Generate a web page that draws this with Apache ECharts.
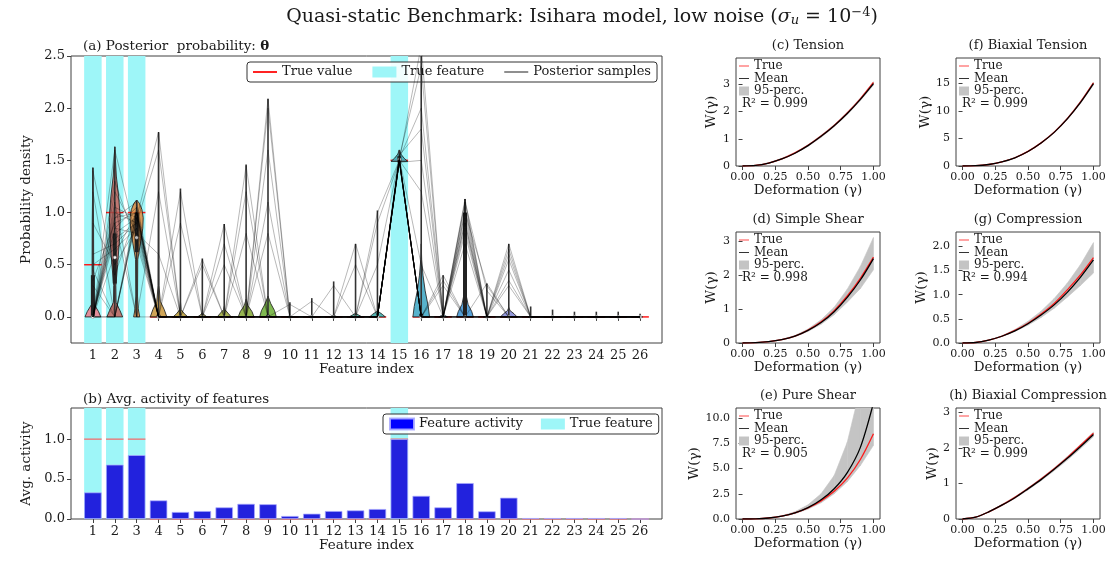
<!DOCTYPE html>
<html>
<head>
<meta charset="utf-8">
<script src="https://cdn.jsdelivr.net/npm/echarts@6/dist/echarts.min.js"></script>
<style>html,body{margin:0;padding:0;background:#fff}#chart{width:1113px;height:578px}</style>
</head>
<body>
<div id="chart"></div>
<script>
// ---------------- DATA : panels (a) & (b) ----------------
const features = [1,2,3,4,5,6,7,8,9,10,11,12,13,14,15,16,17,18,19,20,21,22,23,24,25,26];
const featureTicks = features;
const trueFeatures = [1, 2, 3, 15];
const trueValues   = [0.5,1.0,1.0,0,0,0,0,0,0,0,0,0,0,0,1.5,0,0,0,0,0,0,0,0,0,0,0];
const trueActivity = [1,1,1,0,0,0,0,0,0,0,0,0,0,0,1,0,0,0,0,0,0,0,0,0,0,0];
const featureActivity = [0.333,0.68,0.80,0.233,0.088,0.10,0.146,0.19,0.185,0.038,0.067,0.10,0.108,0.125,1.0,0.29,0.146,0.45,0.096,0.267,0.012,0.012,0.012,0.012,0.012,0];
const densityTicks = [0,0.5,1.0,1.5,2.0,2.5];
const activityTicks = [0,0.5,1.0];

// violin summaries
const whiskerMin = [0,0,0,0,0,0,0,0,0,0,0,0,0,0,1.46,0,0,0,0,0,0,0,0,0,0,0];
const whiskerMax = [1.43,1.63,1.12,1.77,1.23,0.56,0.89,1.46,2.09,0.14,0.18,0.34,0.70,1.02,1.60,2.70,0.40,1.13,0.32,0.70,0.10,0.07,0.05,0.05,0.05,0.03];
const boxLow  = [0,0.32,0.62,0,0,0,0,0,0,0,0,0,0,0,1.48,0,0,0,0,0,0,0,0,0,0,0];
const boxHigh = [0.40,0.80,1.00,0.02,0.01,0,0,0.01,0.02,0,0,0,0,0,1.54,0.03,0,1.00,0,0,0,0,0,0,0,0];
const medians = [0,0.57,0.76,0,0,0,0,0,0,0,0,0,0,0,1.51,0,0,0,0,0,0,0,0,0,0,0];
const violinProfiles = [
  [[0,0.36],[0.05,0.26],[0.12,0.06],[0.3,0.04],[0.9,0.03],[1.43,0]],
  [[0,0.36],[0.06,0.24],[0.14,0.06],[0.3,0.05],[0.5,0.13],[0.75,0.22],[0.95,0.25],[1.15,0.18],[1.35,0.07],[1.55,0.02],[1.63,0]],
  [[0,0.14],[0.08,0.07],[0.2,0.04],[0.55,0.05],[0.7,0.17],[0.85,0.28],[0.95,0.30],[1.03,0.24],[1.09,0.12],[1.12,0]],
  [[0,0.38],[0.07,0.26],[0.15,0.08],[0.3,0.02],[1.77,0]],
  [[0,0.34],[0.03,0.18],[0.07,0.03],[0.15,0]],
  [[0,0.22],[0.02,0.08],[0.04,0]],
  [[0,0.32],[0.03,0.2],[0.07,0.03],[0.1,0]],
  [[0,0.36],[0.05,0.27],[0.11,0.08],[0.17,0]],
  [[0,0.38],[0.06,0.30],[0.13,0.12],[0.2,0]],
  [[0,0.12],[0.01,0]],
  [[0,0.14],[0.01,0]],
  [[0,0.18],[0.015,0]],
  [[0,0.30],[0.02,0.12],[0.035,0]],
  [[0,0.36],[0.025,0.22],[0.05,0.05],[0.06,0]],
  [[1.49,0.38],[1.52,0.22],[1.56,0.07],[1.6,0]],
  [[0,0.38],[0.1,0.32],[0.25,0.18],[0.4,0.08],[0.55,0.02],[0.7,0]],
  [[0,0.20],[0.015,0.06],[0.03,0]],
  [[0,0.38],[0.05,0.31],[0.12,0.14],[0.2,0.06],[0.5,0.04],[0.95,0.03],[1.13,0]],
  [[0,0.16],[0.01,0]],
  [[0,0.38],[0.03,0.24],[0.06,0.06],[0.09,0]],
  [[0,0.12],[0.006,0]],
  [[0,0.12],[0.006,0]],
  [[0,0.12],[0.006,0]],
  [[0,0.12],[0.006,0]],
  [[0,0.12],[0.006,0]],
  [[0,0.12],[0.006,0]]
];
const violinColors = ['#ee7a88','#c4625a','#e0893e','#c8953a','#b89a32','#a89f32','#97a332','#84a832','#6aad32','#32b045','#34ae73','#35ac8b','#36ab9a','#37aaa8','#38a8b5','#3aa5c3','#3da2d4','#3a8fd0','#7a90ea','#8086d4','#b77bea','#d06ee5','#e86dd0','#f46fb8','#f572a3','#f6749a'];

// representative posterior sample traces (values per feature 1..26)
const sample01 = [0,0.95,1.0,0,0,0,0,0,0,0,0,0,0,0,1.5,0,0,1.05,0,0,0,0,0,0,0,0];
const sample02 = [0,0.8,0.95,0,0,0,0,0,0,0,0,0,0,0,1.52,0.5,0,0,0,0,0,0,0,0,0,0];
const sample03 = [0.45,0,1.05,0,0,0,0,0,0,0,0,0,0,0,1.5,0,0,0.95,0,0.55,0,0,0,0,0,0];
const sample04 = [0,1.1,0,1.2,0,0,0,0,0,0,0,0,0,0,1.48,0,0,1.1,0,0,0,0,0,0,0,0];
const sample05 = [0.9,0.5,0.85,0,0,0,0,1.2,0,0,0,0,0,0,1.5,0,0,0,0,0,0,0,0,0,0,0];
const sample06 = [0,1.0,0.9,0,0,0,0,0,1.6,0,0,0,0,0,1.55,1.8,0,0,0,0.6,0,0,0,0,0,0];
const sample07 = [0,0.6,1.0,0,0,0,0.7,0,0,0,0,0,0,0,1.5,0,0,0.9,0,0,0,0,0,0,0,0];
const sample08 = [0.3,0,0.95,0,0.9,0,0,0,0,0,0,0,0.5,0,1.5,0,0.3,0,0,0,0,0,0,0,0,0];
const sample09 = [0,0.85,0.8,0.6,0,0,0,0,0,0,0,0,0,0,1.53,2.4,0,0.8,0,0,0,0,0,0,0,0];
const sample10 = [0,1.3,0.7,0,0,0,0,0,1.1,0,0,0.3,0,0.9,1.49,0,0,0,0,0.45,0,0,0,0,0,0];
const sample11 = [1.2,0,1.0,0,0,0.5,0,0,0,0,0,0,0,0,1.51,0,0,1.0,0.3,0,0,0,0,0,0,0];
const sample12 = [0,0.95,1.1,0,0,0,0,0.8,0,0,0.15,0,0,0,1.5,1.2,0,0,0,0,0,0,0,0,0,0];
const sample13 = [0.6,0.7,0.9,1.6,0,0,0,0,0,0,0,0,0,0,1.5,0,0,0.85,0,0.35,0,0,0,0,0,0];
const sample14 = [0,0,1.0,0,0,0,0,0,2.0,0,0,0,0,0,1.5,0,0.35,0,0,0,0,0,0,0,0,0];
const sample15 = [0,0.75,0.9,0,0,0,0,0,0,0,0,0,0,0.5,1.52,2.0,0,0,0,0.65,0,0,0,0,0,0];
const sample16 = [0.35,0.9,0,0,0,0,0.5,0,0,0.12,0,0,0,0,1.5,0,0,1.1,0.25,0,0,0,0,0,0,0];
const sample17 = [0,1.05,0.95,0,0,0,0,0,0,0,0,0,0,0,1.5,0,0,0.7,0,0,0,0,0,0,0,0];
const sample18 = [0,0.9,1.0,0,0,0,0,1.45,0,0,0,0,0,0,1.5,0,0,0,0,0.3,0,0,0,0,0,0];
const sample19 = [0.5,0.65,0.85,0,1.2,0,0,0,0,0,0,0,0,0,1.52,0,0,1.0,0,0,0,0,0,0,0,0];
const sample20 = [0,1.2,0.8,0,0,0,0,0,0.8,0,0,0,0.7,0,1.5,2.6,0,0,0,0,0,0,0,0,0,0];
const sample21 = [0,0,0.95,1.77,0,0,0,0,0,0,0,0,0,0,1.5,0,0,1.13,0,0,0,0,0,0,0,0];
const sample22 = [1.4,0.4,1.0,0,0,0,0,0,0,0,0,0,0,1.0,1.5,0,0.4,0,0,0.7,0,0,0,0,0,0];
const sample23 = [0,0.85,1.05,0,0,0.55,0,0,0,0,0,0,0,0,1.48,1.5,0,0.9,0,0,0,0,0,0,0,0];
const sample24 = [0,1.6,0.75,0,0,0,0.89,0,2.09,0,0,0,0,0,1.53,0,0,0,0.32,0,0,0,0,0,0,0];
const posteriorSamples = [sample01,sample02,sample03,sample04,sample05,sample06,sample07,sample08,sample09,sample10,sample11,sample12,
                          sample13,sample14,sample15,sample16,sample17,sample18,sample19,sample20,sample21,sample22,sample23,sample24];

// ---------------- DATA : panels (c)-(h) ----------------
const gamma = [0,0.1,0.2,0.3,0.4,0.5,0.6,0.7,0.8,0.9,1.0];
const gammaTicks = [0,0.25,0.5,0.75,1.0];

const tensionTrue = [0,0.02,0.11,0.26,0.48,0.76,1.10,1.49,1.95,2.47,3.07];
const tensionMean = [0,0.02,0.11,0.26,0.47,0.75,1.09,1.48,1.93,2.45,3.03];
const tensionLow  = [0,0.01,0.10,0.24,0.45,0.72,1.05,1.44,1.89,2.40,2.97];
const tensionHigh = [0,0.03,0.12,0.28,0.50,0.78,1.13,1.52,1.98,2.50,3.10];

const biaxTensionTrue = [0,0.05,0.27,0.75,1.50,2.65,4.20,6.15,8.60,11.60,15.10];
const biaxTensionMean = [0,0.05,0.27,0.74,1.49,2.63,4.17,6.10,8.55,11.50,14.95];
const biaxTensionLow  = [0,0.04,0.25,0.71,1.44,2.56,4.07,5.97,8.38,11.30,14.70];
const biaxTensionHigh = [0,0.06,0.29,0.78,1.54,2.71,4.27,6.23,8.72,11.72,15.20];

const shearTrue = [0,0.01,0.04,0.10,0.20,0.38,0.62,0.95,1.38,1.90,2.52];
const shearMean = [0,0.01,0.04,0.10,0.20,0.37,0.60,0.92,1.34,1.85,2.48];
const shearLow  = [0,0.01,0.035,0.09,0.18,0.34,0.55,0.83,1.20,1.60,2.15];
const shearHigh = [0,0.01,0.045,0.11,0.22,0.41,0.68,1.05,1.58,2.25,3.10];

const compTrue = [0,0.01,0.06,0.14,0.26,0.41,0.60,0.82,1.10,1.41,1.77];
const compMean = [0,0.01,0.06,0.14,0.25,0.40,0.58,0.79,1.05,1.36,1.72];
const compLow  = [0,0.01,0.055,0.13,0.24,0.37,0.53,0.72,0.95,1.19,1.45];
const compHigh = [0,0.01,0.065,0.15,0.28,0.45,0.66,0.92,1.24,1.62,2.08];

const pureTrue = [0,0.02,0.10,0.28,0.60,1.10,1.80,2.75,4.05,5.90,8.45];
const pureMean = [0,0.02,0.10,0.28,0.60,1.12,1.90,3.00,4.60,7.10,11.50];
const pureLow  = [0,0.02,0.09,0.25,0.53,0.98,1.60,2.50,3.70,5.30,7.30];
const pureHigh = [0,0.02,0.11,0.32,0.72,1.40,2.50,4.30,7.60,13.0,20.0];

const biaxCompTrue = [0,0.05,0.20,0.39,0.61,0.86,1.13,1.42,1.73,2.07,2.42];
const biaxCompMean = [0,0.05,0.20,0.39,0.60,0.85,1.11,1.40,1.71,2.04,2.38];
const biaxCompLow  = [0,0.04,0.19,0.37,0.58,0.82,1.08,1.36,1.66,1.98,2.32];
const biaxCompHigh = [0,0.06,0.21,0.41,0.63,0.88,1.15,1.44,1.76,2.10,2.45];

const r2Values = ['0.999','0.999','0.998','0.994','0.905','0.999'];

// ---------------- STYLE / LAYOUT ----------------
const FONT = "'DejaVu Serif', serif";
const TXT = '#1a1a1a';
const EDGE = '#404040';
const CYAN = '#9ef6f8';
const RED = '#ff1a1a';
const BAND = '#c4c4c4';
const LINE_ICON = 'path://M0,0 L20,0 L20,1.6 L0,1.6 Z';

const panels = [
  {title:'(c) Tension',             left:736, top:58,  h:108, ymax:3.97, ticks:[0,1,2,3],           dec:0, gap:18, t:tensionTrue, m:tensionMean, lo:tensionLow, hi:tensionHigh},
  {title:'(f) Biaxial Tension',     left:956, top:58,  h:108, ymax:19.6, ticks:[0,5,10,15],         dec:0, gap:22, t:biaxTensionTrue, m:biaxTensionMean, lo:biaxTensionLow, hi:biaxTensionHigh},
  {title:'(d) Simple Shear',        left:736, top:232, h:111, ymax:3.26, ticks:[0,1,2,3],           dec:0, gap:18, t:shearTrue, m:shearMean, lo:shearLow, hi:shearHigh},
  {title:'(g) Compression',         left:956, top:232, h:111, ymax:2.30, ticks:[0,0.5,1.0,1.5,2.0], dec:1, gap:25, t:compTrue, m:compMean, lo:compLow, hi:compHigh},
  {title:'(e) Pure Shear',          left:736, top:408, h:111, ymax:11.0, ticks:[0,2.5,5,7.5,10],    dec:1, gap:31, t:pureTrue, m:pureMean, lo:pureLow, hi:pureHigh},
  {title:'(h) Biaxial Compression', left:956, top:408, h:111, ymax:3.13, ticks:[0,1,2,3],           dec:0, gap:17, t:biaxCompTrue, m:biaxCompMean, lo:biaxCompLow, hi:biaxCompHigh}
];
const PW = 144;

const grids = [
  {left:71, top:56, width:591, height:287},
  {left:71, top:408, width:591, height:111}
];
panels.forEach(p => grids.push({left:p.left, top:p.top, width:PW, height:p.h}));
grids.forEach(g => Object.assign(g, {show:true, borderColor:EDGE, borderWidth:1, backgroundColor:'transparent', outerBoundsMode:'none', containLabel:false}));

function valAxis(gridIndex, min, max, ticks, fmt, fontSize, extra) {
  return Object.assign({
    type:'value', gridIndex, min, max,
    splitLine:{show:false}, axisLine:{show:false},
    axisTick:{show:true, customValues:ticks, length:4, lineStyle:{color:EDGE}},
    axisLabel:{customValues:ticks, formatter:fmt, color:TXT, fontFamily:FONT, fontSize, margin:6},
    nameTextStyle:{color:TXT, fontFamily:FONT, fontSize:13.5},
    nameLocation:'middle'
  }, extra || {});
}

const xAxes = [
  valAxis(0, 0, 27, featureTicks, v => String(v), 13, {name:'Feature index', nameGap:19}),
  valAxis(1, 0, 27, featureTicks, v => String(v), 13, {name:'Feature index', nameGap:19})
];
const yAxes = [
  valAxis(0, -0.25, 2.5, densityTicks, v => v.toFixed(1), 13, {name:'Probability density', nameGap:27}),
  valAxis(1, 0, 1.39, activityTicks, v => v.toFixed(1), 13, {name:'Avg. activity', nameGap:25})
];
panels.forEach((p, i) => {
  xAxes.push(valAxis(i + 2, -0.05, 1.05, gammaTicks, v => v.toFixed(2), 11, {name:'Deformation (γ)', nameGap:17}));
  yAxes.push(valAxis(i + 2, 0, p.ymax, p.ticks, v => v.toFixed(p.dec), 11, {name:'W(γ)', nameGap:p.gap}));
});

const series = [];

// (a) true-feature bands
series.push({
  type:'custom', name:'True feature', xAxisIndex:0, yAxisIndex:0, z:1, silent:true,
  data: trueFeatures.map(f => [f]),
  renderItem: (params, api) => {
    const f = api.value(0);
    const a = api.coord([f - 0.4, 0]), b = api.coord([f + 0.4, 0]);
    const cs = params.coordSys;
    return {type:'rect', shape:{x:a[0], y:cs.y, width:b[0]-a[0], height:cs.height}, style:{fill:CYAN}};
  }
});
// (a) true values
series.push({
  type:'custom', name:'True value', xAxisIndex:0, yAxisIndex:0, z:3, silent:true,
  data: features.map((f, j) => [f, trueValues[j]]),
  renderItem: (params, api) => {
    const a = api.coord([api.value(0) - 0.4, api.value(1)]), b = api.coord([api.value(0) + 0.4, api.value(1)]);
    return {type:'line', shape:{x1:a[0], y1:a[1], x2:b[0], y2:b[1]}, style:{stroke:RED, lineWidth:1.5}};
  }
});
// (a) violins
series.push({
  type:'custom', name:'Violins', xAxisIndex:0, yAxisIndex:0, z:4, silent:true, clip:true,
  data: features.map((f, j) => [f, whiskerMax[j]]),
  renderItem: (params, api) => {
    const i = params.dataIndex, f = api.value(0);
    const prof = violinProfiles[i];
    const pts = prof.map(([y, w]) => api.coord([f - w, y]))
      .concat(prof.slice().reverse().map(([y, w]) => api.coord([f + w, y])));
    const wb = api.coord([f, whiskerMin[i]]), wt = api.coord([f, whiskerMax[i]]);
    const bb = api.coord([f, boxLow[i]]), bt = api.coord([f, boxHigh[i]]);
    const md = api.coord([f, medians[i]]);
    return {type:'group', children:[
      {type:'polygon', shape:{points:pts}, style:{fill:violinColors[i], stroke:'#222', lineWidth:1, opacity:0.85}},
      {type:'line', shape:{x1:wb[0], y1:wb[1], x2:wt[0], y2:wt[1]}, style:{stroke:'#333', lineWidth:1.6}},
      {type:'line', shape:{x1:bb[0], y1:bb[1], x2:bt[0], y2:bt[1]}, style:{stroke:'#222', lineWidth:4}},
      {type:'circle', shape:{cx:md[0], cy:md[1], r:1.6}, style:{fill:'#fff', stroke:'#888', lineWidth:0.5}}
    ]};
  }
});
// (a) posterior samples (drawn over violins, translucent)
posteriorSamples.forEach(s => series.push({
  type:'line', name:'Posterior samples', xAxisIndex:0, yAxisIndex:0, z:5, silent:true,
  data: features.map((f, j) => [f, s[j]]), symbol:'none',
  lineStyle:{color:'rgba(0,0,0,0.28)', width:1}
}));

// (b) bands
series.push({
  type:'custom', name:'True feature', xAxisIndex:1, yAxisIndex:1, z:1, silent:true,
  data: trueFeatures.map(f => [f]),
  renderItem: (params, api) => {
    const f = api.value(0);
    const a = api.coord([f - 0.4, 0]), b = api.coord([f + 0.4, 0]);
    const cs = params.coordSys;
    return {type:'rect', shape:{x:a[0], y:cs.y, width:b[0]-a[0], height:b[1]-cs.y}, style:{fill:CYAN}};
  }
});
series.push({
  type:'custom', name:'True activity', xAxisIndex:1, yAxisIndex:1, z:2, silent:true,
  data: features.map((f, j) => [f, trueActivity[j]]),
  renderItem: (params, api) => {
    const a = api.coord([api.value(0) - 0.4, api.value(1)]), b = api.coord([api.value(0) + 0.4, api.value(1)]);
    return {type:'line', shape:{x1:a[0], y1:a[1], x2:b[0], y2:b[1]}, style:{stroke:'#f07070', lineWidth:1.3}};
  }
});
series.push({
  type:'bar', name:'Feature activity', xAxisIndex:1, yAxisIndex:1, z:3, silent:true,
  data: features.map((f, j) => [f, featureActivity[j]]), barWidth:'80%',
  itemStyle:{color:'#2222dd', borderColor:'rgba(170,170,255,0.9)', borderWidth:0.8}
});

// (c)-(h)
panels.forEach((p, i) => {
  const gi = i + 2;
  const n = gamma.length;
  series.push({
    type:'custom', name:'95-perc.', xAxisIndex:gi, yAxisIndex:gi, z:1, silent:true, clip:true,
    data: gamma.map((g, j) => [g, p.lo[j], p.hi[j]]),
    renderItem: (params, api) => {
      const k = params.dataIndexInside;
      if (k >= n - 1) return null;
      const g0 = api.value(0, k), g1 = api.value(0, k + 1);
      const pts = [api.coord([g0, api.value(1, k)]), api.coord([g1, api.value(1, k + 1)]),
                   api.coord([g1, api.value(2, k + 1)]), api.coord([g0, api.value(2, k)])];
      return {type:'polygon', shape:{points:pts}, style:{fill:BAND, stroke:BAND, lineWidth:0.6}};
    }
  });
  const common = {type:'line', xAxisIndex:gi, yAxisIndex:gi, symbol:'none', smooth:0.3, silent:true};
  series.push(Object.assign({}, common, {name:'True', data: gamma.map((g, j) => [g, p.t[j]]), lineStyle:{color:RED, width:1.3}, itemStyle:{color:RED}, z:2}));
  series.push(Object.assign({}, common, {name:'Mean', data: gamma.map((g, j) => [g, p.m[j]]), lineStyle:{color:'#000', width:1.3}, itemStyle:{color:'#000'}, z:3}));
});

// legends
const legends = [
  {left:247, top:62, orient:'horizontal', itemWidth:24, itemHeight:11, itemGap:20, padding:[3,6,3,6],
   borderColor:'#333', borderWidth:1, borderRadius:3, backgroundColor:'rgba(255,255,255,0.85)',
   textStyle:{fontFamily:FONT, fontSize:13, color:TXT, lineHeight:14},
   data:[{name:'True value', icon:LINE_ICON, itemStyle:{color:RED}},
         {name:'True feature', icon:'rect', itemStyle:{color:CYAN}},
         {name:'Posterior samples', icon:LINE_ICON, itemStyle:{color:'#8a8a8a'}}]},
  {left:383, top:414, orient:'horizontal', itemWidth:24, itemHeight:11, itemGap:18, padding:[3,6,3,6],
   borderColor:'#333', borderWidth:1, borderRadius:3, backgroundColor:'rgba(255,255,255,0.85)',
   textStyle:{fontFamily:FONT, fontSize:13, color:TXT, lineHeight:14},
   data:[{name:'Feature activity', icon:'rect', itemStyle:{color:'#0000ff'}},
         {name:'True feature', icon:'rect', itemStyle:{color:CYAN}}]}
];
panels.forEach(p => legends.push({
  left:p.left + 3, top:p.top + 2, orient:'vertical', itemWidth:10, itemHeight:9, itemGap:0.5, padding:0,
  textStyle:{fontFamily:FONT, fontSize:12, color:TXT, lineHeight:12},
  data:[{name:'True', icon:LINE_ICON, itemStyle:{color:RED}},
        {name:'Mean', icon:LINE_ICON, itemStyle:{color:'#000'}},
        {name:'95-perc.', icon:'rect', itemStyle:{color:BAND}}]
}));
legends.forEach(l => { l.selectedMode = false; });

// text
const texts = [
  {type:'text', x:582, y:17, style:{
    text:'Quasi-static Benchmark: Isihara model, low noise ({i|σ}{s|u} = 10{p|−4})',
    fontFamily:FONT, fontSize:19, fill:TXT, align:'center', verticalAlign:'middle',
    rich:{i:{fontFamily:FONT, fontSize:19, fontStyle:'italic', fill:TXT},
          s:{fontFamily:FONT, fontSize:13, fontStyle:'italic', fill:TXT, padding:[8,0,0,0]},
          p:{fontFamily:FONT, fontSize:13, fill:TXT, padding:[0,0,9,0]}}}},
  {type:'text', x:83, y:46, style:{text:'(a) Posterior  probability: {b|θ}', fontFamily:FONT, fontSize:13.5, fill:TXT, align:'left', verticalAlign:'middle',
    rich:{b:{fontFamily:FONT, fontSize:13.5, fontWeight:'bold', fill:TXT}}}},
  {type:'text', x:83, y:399, style:{text:'(b) Avg. activity of features', fontFamily:FONT, fontSize:13.5, fill:TXT, align:'left', verticalAlign:'middle'}}
];
panels.forEach((p, i) => {
  texts.push({type:'text', x:p.left + PW / 2, y:p.top - 12, style:{text:p.title, fontFamily:FONT, fontSize:13, fill:TXT, align:'center', verticalAlign:'middle'}});
  texts.push({type:'text', x:p.left + 6, y:p.top + 46, style:{text:'R² = ' + r2Values[i], fontFamily:FONT, fontSize:12, fill:TXT, align:'left', verticalAlign:'middle'}});
});

const chart = echarts.init(document.getElementById('chart'), null, {renderer:'canvas'});
chart.setOption({
  animation:false,
  backgroundColor:'#fff',
  textStyle:{fontFamily:FONT},
  grid:grids,
  xAxis:xAxes,
  yAxis:yAxes,
  legend:legends,
  series:series,
  graphic:{elements:texts}
});
</script>
</body>
</html>
